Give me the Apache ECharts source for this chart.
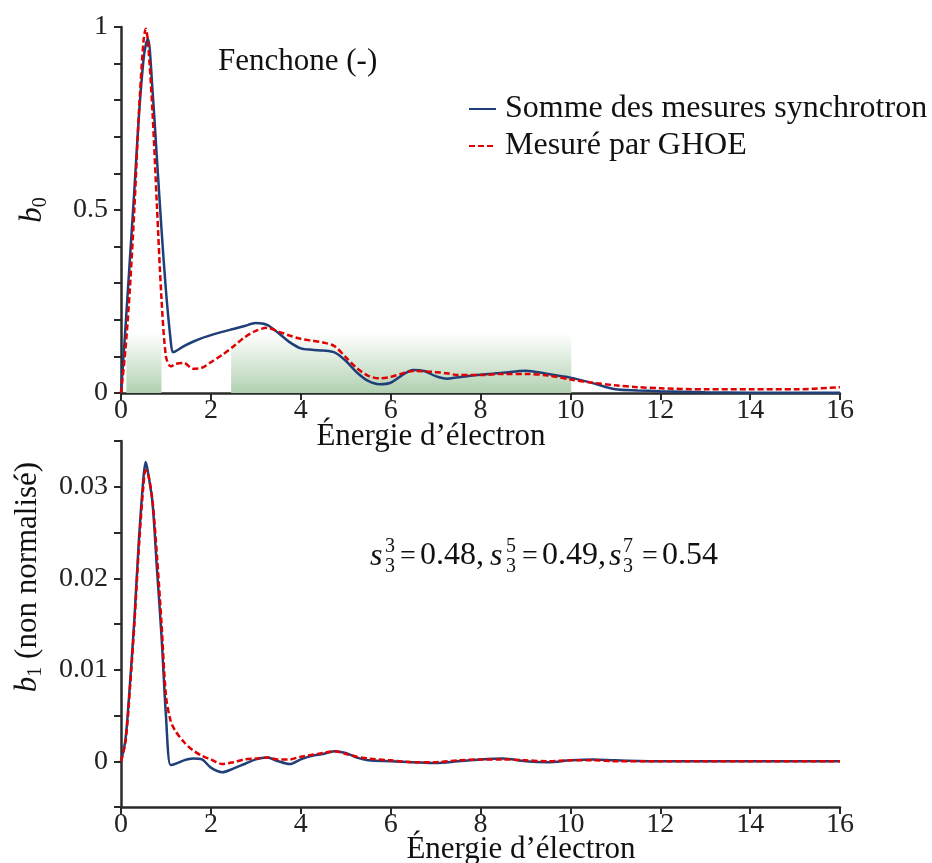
<!DOCTYPE html>
<html>
<head>
<meta charset="utf-8">
<script src="https://cdn.jsdelivr.net/npm/echarts@6/dist/echarts.min.js"></script>
<style>
html,body{margin:0;padding:0;background:#fff;}
#chart{width:932px;height:863px;}
</style>
</head>
<body>
<div id="chart"></div>
<script>
// ---- Data ----
const energyB0 = [0, 0.1, 0.2, 0.3, 0.4, 0.5, 0.55, 0.6, 0.7, 0.8, 0.9, 1.0, 1.1, 1.15, 1.2, 1.4, 1.6, 1.8, 2.0, 2.25, 2.5, 2.75, 3.0, 3.25, 3.5, 3.75, 4.0, 4.25, 4.5, 4.75, 5.0, 5.25, 5.5, 5.75, 6.0, 6.25, 6.5, 6.75, 7.0, 7.25, 7.5, 8.0, 8.5, 9.0, 9.5, 10.0, 10.5, 11.0, 11.5, 12.0, 13, 14, 15, 16];
const b0Synchrotron = [0, 0.18, 0.37, 0.56, 0.76, 0.91, 0.95, 0.968, 0.83, 0.64, 0.45, 0.28, 0.15, 0.112, 0.113, 0.128, 0.140, 0.150, 0.158, 0.167, 0.175, 0.183, 0.191, 0.186, 0.164, 0.139, 0.122, 0.118, 0.116, 0.111, 0.088, 0.056, 0.033, 0.024, 0.028, 0.048, 0.063, 0.060, 0.046, 0.039, 0.043, 0.050, 0.055, 0.061, 0.052, 0.042, 0.027, 0.010, 0.007, 0.005, 0.002, 0.001, 0.001, 0.001];
const b0Ghoe = [0, 0.12, 0.29, 0.51, 0.77, 0.96, 0.995, 0.96, 0.77, 0.51, 0.26, 0.10, 0.073, 0.075, 0.079, 0.082, 0.066, 0.069, 0.084, 0.104, 0.127, 0.152, 0.170, 0.178, 0.168, 0.157, 0.148, 0.143, 0.138, 0.128, 0.098, 0.068, 0.047, 0.040, 0.044, 0.053, 0.060, 0.059, 0.057, 0.054, 0.049, 0.049, 0.052, 0.052, 0.048, 0.037, 0.028, 0.021, 0.016, 0.013, 0.010, 0.010, 0.010, 0.016];

const energyB1 = [0, 0.1, 0.2, 0.3, 0.4, 0.5, 0.55, 0.6, 0.7, 0.8, 0.9, 1.0, 1.1, 1.2, 1.4, 1.6, 1.8, 2.0, 2.25, 2.5, 2.75, 3.0, 3.25, 3.5, 3.75, 4.0, 4.25, 4.5, 4.75, 5.0, 5.25, 5.5, 6.0, 6.5, 7.0, 7.5, 8.0, 8.5, 9.0, 9.5, 10.0, 10.5, 11, 12, 13, 14, 15, 16];
const b1Synchrotron = [0, 0.0024, 0.0085, 0.0157, 0.0243, 0.0310, 0.0327, 0.0316, 0.0283, 0.0210, 0.0138, 0.0050, -0.0004, -0.0003, 0.0001, 0.0003, 0.0002, -0.0007, -0.0012, -0.0008, -0.0003, 0.0002, 0.0004, 0.0000, -0.0003, 0.0002, 0.0006, 0.0008, 0.0011, 0.0009, 0.0004, 0.0001, 0.0000, -0.0001, -0.0002, 0.0000, 0.0002, 0.0003, 0.0000, -0.0001, 0.0001, 0.0002, 0.0001, 0, 0, 0, 0, 0];
const b1Ghoe = [0, 0.0021, 0.0080, 0.0152, 0.0235, 0.0302, 0.0318, 0.0315, 0.0285, 0.0225, 0.0152, 0.0072, 0.0045, 0.0034, 0.0021, 0.0012, 0.0006, 0.0002, -0.0003, -0.0001, 0.0002, 0.0003, 0.0004, 0.0002, 0.0002, 0.0005, 0.0007, 0.0009, 0.0011, 0.0008, 0.0005, 0.0003, 0.0001, -0.0001, -0.0001, 0.0001, 0.0002, 0.0002, 0.0001, 0.0000, 0.0001, 0.0001, 0, 0, 0, 0, 0, 0];

// shaded energy windows (x ranges) and their height in b0 units
const shadedBands = [[0.12, 0.9], [2.45, 10.02]];
const shadedTop = 0.165;

const seriesNames = ['Somme des mesures synchrotron', 'Mesuré par GHOE'];
const title = 'Fenchone (-)';
const xName = 'Énergie d’électron';
const annotation = [
  {sup: '3', sub: '3', val: '0.48,'},
  {sup: '5', sub: '3', val: '0.49,'},
  {sup: '7', sub: '3', val: '0.54'}
];

// ---- Styling ----
const FONT = "'Liberation Serif', 'DejaVu Serif', serif";
const AX = '#2a2a2a';
const BLUE = '#1f3f78';
const RED = '#e00000';
const zip = (xs, ys) => xs.map((x, i) => [x, ys[i]]);

function xAxisCfg(gi) {
  return {
    type: 'value', gridIndex: gi, min: 0, max: 16, interval: 2,
    axisLine: {show: true, onZero: false, lineStyle: {color: AX, width: 2.5}},
    axisTick: {show: true, length: 7, lineStyle: {color: AX, width: 2}},
    axisLabel: {fontFamily: FONT, fontSize: 28, color: '#222', margin: 4},
    splitLine: {show: false}
  };
}
function yAxisCfg(gi, min, max, interval, fmt) {
  return {
    type: 'value', gridIndex: gi, min: min, max: max, interval: interval,
    axisLine: {show: true, onZero: false, lineStyle: {color: AX, width: 2.5}},
    axisTick: {show: true, length: 7, lineStyle: {color: AX, width: 2}},
    axisLabel: {fontFamily: FONT, fontSize: 28, color: '#222', margin: 13, formatter: fmt},
    splitLine: {show: false}
  };
}
const fmtB0 = v => { const r = Math.round(v * 10); return r === 0 ? '0' : r === 5 ? '0.5' : r === 10 ? '1' : ''; };
const fmtB1 = v => { const r = Math.round(v * 1000); if (r < 0 || r % 10 !== 0) return ''; return r === 0 ? '0' : (r / 1000).toFixed(2); };

const bandGradient = {
  type: 'linear', x: 0, y: 0, x2: 0, y2: 1,
  colorStops: [{offset: 0, color: 'rgba(182,212,182,0)'}, {offset: 1, color: 'rgba(176,208,176,1)'}]
};

function lineSeries(name, xi, xs, ys, color, dashed, extra) {
  return Object.assign({
    type: 'line', name: name, xAxisIndex: xi, yAxisIndex: xi,
    data: zip(xs, ys), symbol: 'none', smooth: 0.3,
    lineStyle: {color: color, width: 2.5, type: dashed ? [6, 3] : 'solid'},
    itemStyle: {color: color},
    z: dashed ? 4 : 3
  }, extra || {});
}

const richY = {
  i: {fontFamily: FONT, fontStyle: 'italic', fontSize: 31, lineHeight: 36, fill: '#111'},
  s: {fontFamily: FONT, fontSize: 20, lineHeight: 18, verticalAlign: 'bottom', fill: '#111'},
  t: {fontFamily: FONT, fontSize: 31, lineHeight: 36, fill: '#111'}
};

const graphics = [
  {type: 'text', x: 218, y: 62, style: {text: title, font: '31px ' + FONT, fill: '#111', align: 'left', verticalAlign: 'middle'}},
  {type: 'text', x: 431, y: 437, style: {text: xName, font: '31px ' + FONT, fill: '#111', align: 'center', verticalAlign: 'middle'}},
  {type: 'text', x: 521, y: 850, style: {text: xName, font: '31px ' + FONT, fill: '#111', align: 'center', verticalAlign: 'middle'}},
  {type: 'text', x: 33, y: 210, rotation: Math.PI / 2, style: {text: '{i|b}{s|0}', rich: richY, align: 'center', verticalAlign: 'middle'}},
  {type: 'text', x: 28, y: 577, rotation: Math.PI / 2, style: {text: '{i|b}{s|1}{t| (non normalisé)}', rich: richY, align: 'center', verticalAlign: 'middle'}}
];
// [s, scripts, '=', value]
const annX = [[370, 385, 400, 420], [490, 506, 522, 542], [609, 623, 642, 662]];
annotation.forEach((a, k) => {
  const [xs, xsc, xe, xv] = annX[k];
  graphics.push({type: 'text', x: xs, y: 557, style: {text: 's', font: 'italic 32px ' + FONT, fill: '#111', align: 'left', verticalAlign: 'middle'}});
  graphics.push({type: 'text', x: xsc, y: 547, style: {text: a.sup, font: '20px ' + FONT, fill: '#111', align: 'left', verticalAlign: 'middle'}});
  graphics.push({type: 'text', x: xsc, y: 567, style: {text: a.sub, font: '20px ' + FONT, fill: '#111', align: 'left', verticalAlign: 'middle'}});
  graphics.push({type: 'text', x: xe, y: 557, style: {text: '=', font: '28px ' + FONT, fill: '#111', align: 'left', verticalAlign: 'middle'}});
  graphics.push({type: 'text', x: xv, y: 556, style: {text: a.val, font: '32px ' + FONT, fill: '#111', align: 'left', verticalAlign: 'middle'}});
});

const chart = echarts.init(document.getElementById('chart'), null, {renderer: 'canvas'});
chart.setOption({
  animation: false,
  backgroundColor: '#fff',
  grid: [
    {left: 121, top: 27, width: 719, height: 366},
    {left: 121, top: 441, width: 719, height: 366}
  ],
  xAxis: [xAxisCfg(0), xAxisCfg(1)],
  yAxis: [yAxisCfg(0, 0, 1, 0.1, fmtB0), yAxisCfg(1, -0.005, 0.035, 0.005, fmtB1)],
  legend: {
    data: seriesNames, orient: 'vertical', left: 463, top: 88,
    itemWidth: 27, itemHeight: 14, itemGap: 5,
    itemStyle: {opacity: 0},
    textStyle: {fontFamily: FONT, fontSize: 32, color: '#111', padding: [0, 0, 0, 4]}
  },
  series: [
    lineSeries(seriesNames[0], 0, energyB0, b0Synchrotron, BLUE, false, {
      markArea: {
        silent: true,
        itemStyle: {color: bandGradient},
        data: shadedBands.map(b => [{xAxis: b[0], yAxis: 0}, {xAxis: b[1], yAxis: shadedTop}])
      }
    }),
    lineSeries(seriesNames[1], 0, energyB0, b0Ghoe, RED, true),
    lineSeries(seriesNames[0], 1, energyB1, b1Synchrotron, BLUE, false),
    lineSeries(seriesNames[1], 1, energyB1, b1Ghoe, RED, true)
  ],
  graphic: graphics
});
</script>
</body>
</html>
